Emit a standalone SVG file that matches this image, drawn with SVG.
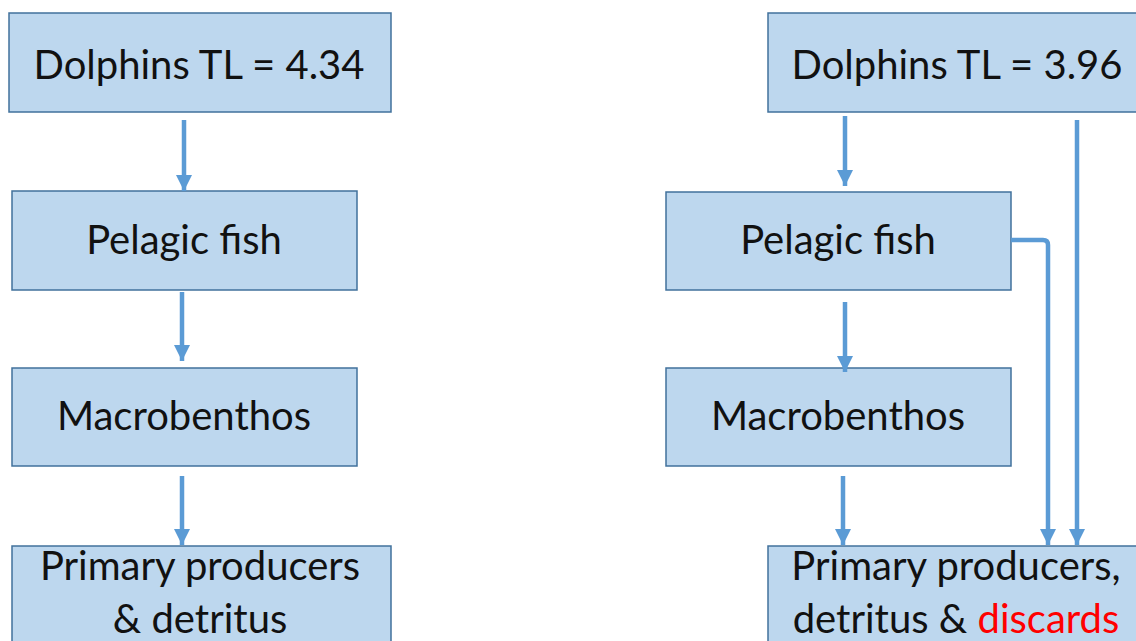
<svg xmlns="http://www.w3.org/2000/svg" width="1136" height="641" viewBox="0 0 1136 641">
  <style>
    .box { fill: #BDD7EE; stroke: #41719C; stroke-width: 1.5; }
    .lbl { font-family: Lato, "Open Sans", "Liberation Sans", sans-serif; font-size: 40px; fill: #111111; text-anchor: middle; }
    .red { fill: #FF0000; }
    .link { fill: none; stroke: #5B9BD5; stroke-width: 4.5; marker-end: url(#head); }
  </style>
  <defs>
    <marker id="head" markerUnits="userSpaceOnUse" markerWidth="18" markerHeight="16" refX="16" refY="8" orient="auto">
      <path d="M0,0 L16,8 L0,16 Z" fill="#5B9BD5"/>
    </marker>
  </defs>
  <rect width="1136" height="641" fill="#FFFFFF"/>

  <!-- Left food chain -->
  <g id="dolphins-a">
    <rect class="box" x="9" y="13" width="382" height="99"/>
    <text class="lbl" x="199" y="79">Dolphins TL = 4.34</text>
  </g>
  <g id="pelagic-a">
    <rect class="box" x="12" y="191" width="345" height="99"/>
    <text class="lbl" x="184" y="254">Pelagic fish</text>
  </g>
  <g id="macro-a">
    <rect class="box" x="12" y="368" width="345" height="98"/>
    <text class="lbl" x="184" y="430">Macrobenthos</text>
  </g>
  <g id="base-a">
    <rect class="box" x="12" y="546" width="379" height="110"/>
    <text class="lbl" x="200" y="580">Primary producers</text>
    <text class="lbl" x="200" y="633">&amp; detritus</text>
  </g>

  <!-- Right food chain -->
  <g id="dolphins-b">
    <rect class="box" x="768" y="13" width="380" height="99"/>
    <text class="lbl" x="957" y="79">Dolphins TL = 3.96</text>
  </g>
  <g id="pelagic-b">
    <rect class="box" x="666" y="192" width="345" height="98"/>
    <text class="lbl" x="838" y="254">Pelagic fish</text>
  </g>
  <g id="macro-b">
    <rect class="box" x="666" y="368" width="345" height="98"/>
    <text class="lbl" x="838" y="430">Macrobenthos</text>
  </g>
  <g id="base-b">
    <rect class="box" x="768" y="546" width="380" height="110"/>
    <text class="lbl" x="956" y="580">Primary producers,</text>
    <text class="lbl" x="956" y="633">detritus &amp; <tspan class="red">discards</tspan></text>
  </g>

  <!-- Connectors -->
  <g id="connectors">
    <path class="link" d="M184,120 L184,191"/>
    <path class="link" d="M182,292 L182,361"/>
    <path class="link" d="M182,476 L182,545"/>

    <path class="link" d="M845,116 L845,186"/>
    <path class="link" d="M845,302 L845,372"/>
    <path class="link" d="M843,476 L843,545"/>
    <path class="link" d="M1011,240 L1043,240 Q1048,240 1048,245 L1048,545"/>
    <path class="link" d="M1077,120 L1077,545"/>
  </g>
</svg>
